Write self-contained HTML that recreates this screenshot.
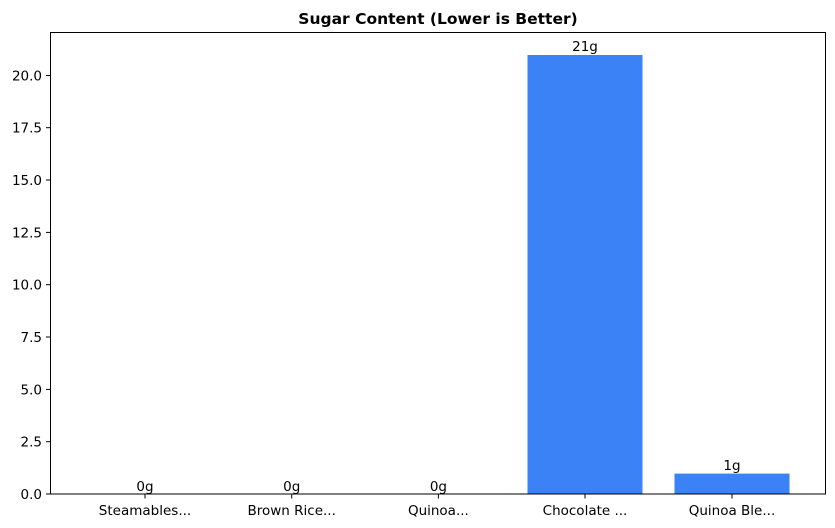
<!DOCTYPE html>
<html><head><style>body{margin:0;background:#fff}svg{display:block;font-family:"DejaVu Sans","Liberation Sans",sans-serif}</style></head><body>
<svg width="835" height="528" viewBox="0 0 835 528" xmlns="http://www.w3.org/2000/svg">
<rect width="835" height="528" fill="#fff"/>
<text x="438" y="24" text-anchor="middle" font-size="15.5" font-weight="bold">Sugar Content (Lower is Better)</text>
<g fill="#3b82f6" stroke="#fff" stroke-width="1">
<rect x="527" y="54.5" width="116" height="439.5"/>
<rect x="674" y="473.1" width="116" height="20.9"/>
</g>
<g font-size="13.5" text-anchor="middle">
<text x="145" y="491">0g</text><text x="291.7" y="491">0g</text><text x="438.4" y="491">0g</text>
<text x="585" y="51">21g</text><text x="732" y="470">1g</text>
</g>
<rect x="50.5" y="32.5" width="775" height="461.5" fill="none" stroke="#000" stroke-width="1"/>
<g stroke="#000">
<line x1="46" x2="50.5" y1="494" y2="494"/><line x1="46" x2="50.5" y1="441.7" y2="441.7"/><line x1="46" x2="50.5" y1="389.4" y2="389.4"/><line x1="46" x2="50.5" y1="337" y2="337"/><line x1="46" x2="50.5" y1="284.7" y2="284.7"/><line x1="46" x2="50.5" y1="232.4" y2="232.4"/><line x1="46" x2="50.5" y1="180" y2="180"/><line x1="46" x2="50.5" y1="127.7" y2="127.7"/><line x1="46" x2="50.5" y1="75.5" y2="75.5"/>
<line x1="145" x2="145" y1="494" y2="498.5"/><line x1="291.7" x2="291.7" y1="494" y2="498.5"/><line x1="438.4" x2="438.4" y1="494" y2="498.5"/><line x1="585" x2="585" y1="494" y2="498.5"/><line x1="732" x2="732" y1="494" y2="498.5"/>
</g>
<g font-size="13.5" text-anchor="end">
<text x="42" y="499">0.0</text><text x="42" y="446.7">2.5</text><text x="42" y="394.4">5.0</text><text x="42" y="342">7.5</text><text x="42" y="289.7">10.0</text><text x="42" y="237.4">12.5</text><text x="42" y="185">15.0</text><text x="42" y="132.7">17.5</text><text x="42" y="80.5">20.0</text>
</g>
<g font-size="13.5" text-anchor="middle">
<text x="145" y="515">Steamables...</text><text x="291.7" y="515">Brown Rice...</text><text x="438.4" y="515">Quinoa...</text><text x="585" y="515">Chocolate ...</text><text x="732" y="515">Quinoa Ble...</text>
</g>
</svg>
</body></html>
